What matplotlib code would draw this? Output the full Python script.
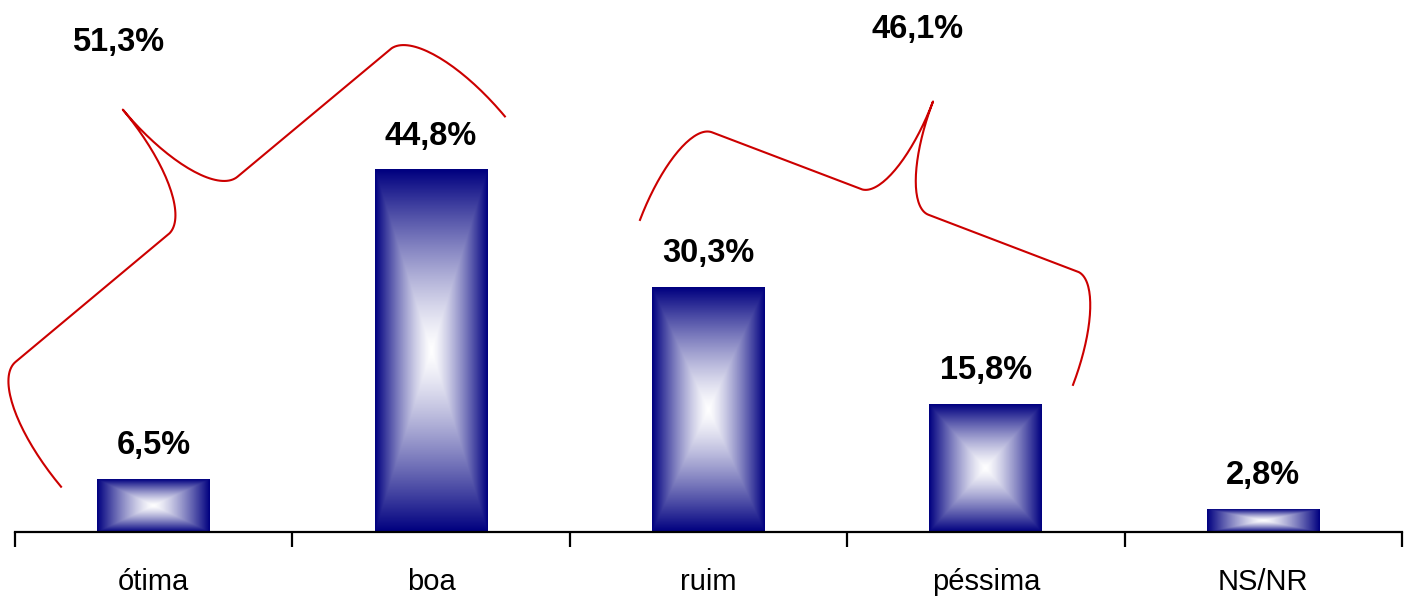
import numpy as np
import matplotlib.pyplot as plt

categories = ['ótima', 'boa', 'ruim', 'péssima', 'NS/NR']
values = [6.5, 44.8, 30.3, 15.8, 2.8]
value_labels = ['6,5%', '44,8%', '30,3%', '15,8%', '2,8%']

# grouped totals shown above the braces
group_labels = ['51,3%', '46,1%']
group_pos = [(-0.13, 60.6), (2.755, 62.1)]
# brace end points (data coords) and depth in pixels
braces = [((-0.334, 5.6), (1.266, 51.4), 250),
          ((1.753, 38.6), (3.314, 18.2), 215)]

plt.rcParams['font.family'] = ['Liberation Sans', 'DejaVu Sans']

W, H = 1415, 599
fig = plt.figure(figsize=(W / 100, H / 100), dpi=100)
ax = fig.add_axes([15 / W, 67 / H, 1387 / W, 532 / H])

x = np.arange(len(categories))
bars = ax.bar(x, values, width=0.407, color='none', edgecolor='none')

# rectangular gradient: white centre -> navy edges
n = 200
g = np.linspace(-1, 1, n)
gx, gy = np.meshgrid(g, g)
t = np.maximum(np.abs(gx), np.abs(gy)) ** 1.3
navy = np.array([0, 0, 0.5])
img = (1 - t)[..., None] * np.array([1, 1, 1]) + t[..., None] * navy

for b in bars:
    x0, y0 = b.get_x(), b.get_y()
    ax.imshow(img, extent=[x0, x0 + b.get_width(), y0, y0 + b.get_height()],
              aspect='auto', interpolation='bilinear', zorder=2)

ax.set_xlim(-0.5, 4.5)
ax.set_ylim(0, 65.8)

for xi, v, lab in zip(x, values, value_labels):
    ax.annotate(lab, (xi, v), xytext=(0, 13), textcoords='offset points',
                ha='center', va='bottom', fontsize=23.5, fontweight='bold')

for lab, (gx_, gy_) in zip(group_labels, group_pos):
    ax.text(gx_, gy_, lab, ha='center', va='center', fontsize=23.5, fontweight='bold')

for s in ['top', 'right', 'left']:
    ax.spines[s].set_visible(False)
ax.spines['bottom'].set_linewidth(1.6)
ax.set_yticks([])
ax.set_xticks(x)
ax.set_xticklabels(categories, fontsize=21)
ax.tick_params(axis='x', which='major', length=0, pad=26)
ax.set_xticks(np.arange(-0.5, 5, 1), minor=True)
ax.tick_params(axis='x', which='minor', length=11, width=1.6, direction='out')


def brace_path(p0, p1, depth):
    p0 = np.array(p0)
    p1 = np.array(p1)
    d = p1 - p0
    L = np.hypot(*d)
    u_dir = d / L
    v_dir = np.array([-u_dir[1], u_dir[0]])
    a = 0.078 * L
    h = depth / 2
    th = np.linspace(0, np.pi / 2, 40)
    u1 = a - a * np.cos(th)
    v1 = h * np.sin(th)
    u2 = L / 2 - a + a * np.sin(th)
    v2 = depth - h * np.cos(th)
    u = np.concatenate([u1, u2])
    v = np.concatenate([v1, v2])
    u = np.concatenate([u, (L - u)[::-1]])
    v = np.concatenate([v, v[::-1]])
    pts = p0 + np.outer(u, u_dir) + np.outer(v, v_dir)
    return pts


for p0, p1, depth in braces:
    d0 = ax.transData.transform(p0)
    d1 = ax.transData.transform(p1)
    pts = brace_path(d0, d1, depth)
    ax.plot(pts[:, 0], pts[:, 1], color='#CC0000', lw=1.5, transform=None,
            clip_on=False, zorder=3)

fig.savefig('out.png', dpi=100)
